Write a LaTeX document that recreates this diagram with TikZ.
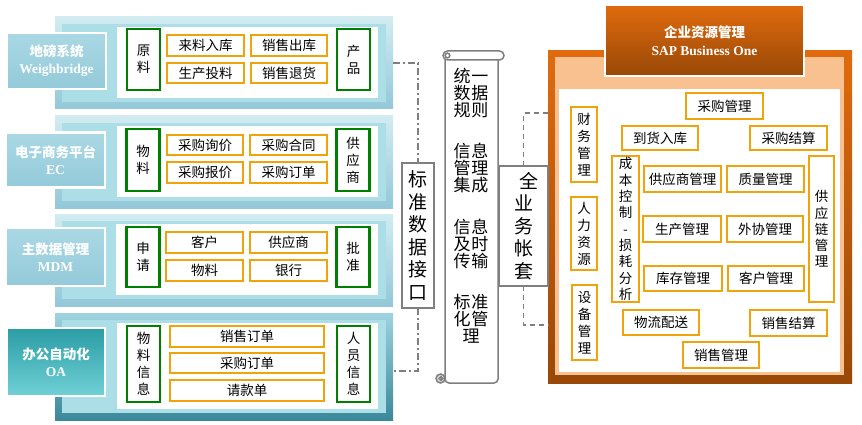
\documentclass[tikz,border=0pt]{standalone}
\usepackage{fontspec}
\setmainfont{Liberation Serif}
\newfontfamily\cjk{Noto Sans CJK SC}
\usetikzlibrary{calc}
\definecolor{panT}{HTML}{D2ECF1}
\definecolor{panB}{HTML}{93C8D8}
\definecolor{bandc}{HTML}{ACDEE7}
\definecolor{lblT}{HTML}{AAD8E4}
\definecolor{lblB}{HTML}{94CADA}
\definecolor{oaT}{HTML}{9FD3DF}
\definecolor{oaB}{HTML}{3A889A}
\definecolor{oalT}{HTML}{2B9CA5}
\definecolor{oalB}{HTML}{70D1D6}
\definecolor{grn}{HTML}{008000}
\definecolor{org}{HTML}{F0A30A}
\definecolor{ln}{HTML}{7F7F7F}
\definecolor{erpT}{HTML}{E06B0E}
\definecolor{erpB}{HTML}{984807}
\definecolor{peach}{HTML}{F9C190}
\definecolor{curl}{HTML}{D9D9D9}
\tikzset{
 base/.style={inner sep=0, outer sep=0, align=center},
 panel/.style={base, top color=panT, bottom color=panB},
 oapanel/.style={base, top color=oaT, bottom color=oaB},
 band/.style={base, fill=bandc},
 wbox/.style={base, fill=white},
 lbl/.style={base, draw=white, line width=2.5, top color=lblT, bottom color=lblB, text=white, font=\bfseries\fontsize{13.5}{17}\selectfont},
 oalbl/.style={lbl, top color=oalT, bottom color=oalB},
 gbox/.style={base, draw=grn, line width=2.2, fill=white, font=\cjk\fontsize{13.5}{17}\selectfont},
 obox/.style={base, draw=org, line width=1.2, fill=white, font=\cjk\fontsize{13.5}{17}\selectfont},
 vob/.style={obox, minimum width=26},
 dd/.style={draw=ln, line width=1.5, dash pattern=on 7pt off 3pt on 2pt off 3pt},
 ds/.style={draw=ln, line width=1.5, dash pattern=on 5pt off 4pt},
 scr/.style={draw=ln, line width=1.5},
 stxt/.style={base, font=\cjk\fontsize{17}{17}\selectfont},
 bigv/.style={base, draw=ln, fill=white, font=\cjk\fontsize{19}{22.6}\selectfont},
}
\begin{document}
\begin{tikzpicture}[x=1pt,y=-1pt]
\useasboundingbox (0,0) rectangle (862,425);
\fill[white] (0,0) rectangle (862,425);

% ---------- Row 1 ----------
\node[panel, minimum width=338, minimum height=92] (p1) at (224,63) {};
\node[band, minimum width=324, minimum height=78] (b1) at (224,63) {};
\node[wbox, minimum width=261, minimum height=71] (w1) at (247.5,62.5) {};
\node[lbl, minimum width=99, minimum height=56] (l1) at (56.5,61) {{\cjk 地磅系统}\\Weighbridge};
\node[gbox, minimum width=33, minimum height=61] (g1a) at (143.5,59.5) {原\\料};
\node[obox, minimum width=77, minimum height=21] (o1a) at (205.5,45.5) {来料入库};
\node[obox, minimum width=76, minimum height=21] (o1b) at (289,45.5) {销售出库};
\node[obox, minimum width=77, minimum height=20] (o1c) at (205.5,73) {生产投料};
\node[obox, minimum width=76, minimum height=20] (o1d) at (289,73) {销售退货};
\node[gbox, minimum width=33, minimum height=61] (g1b) at (353.5,59.5) {产\\品};

% ---------- Row 2 ----------
\node[panel, minimum width=338, minimum height=92] (p2) at (224,162) {};
\node[band, minimum width=324, minimum height=78] (b2) at (224,162) {};
\node[wbox, minimum width=261, minimum height=71] (w2) at (247.5,161.5) {};
\node[lbl, minimum width=99, minimum height=55] (l2) at (55.5,160) {{\cjk 电子商务平台}\\EC};
\node[gbox, minimum width=33, minimum height=62] (g2a) at (143,160) {物\\料};
\node[obox, minimum width=76, minimum height=20] (o2a) at (205,145) {采购询价};
\node[obox, minimum width=77, minimum height=20] (o2b) at (288.5,145) {采购合同};
\node[obox, minimum width=76, minimum height=21] (o2c) at (205,172.5) {采购报价};
\node[obox, minimum width=77, minimum height=21] (o2d) at (288.5,172.5) {采购订单};
\node[gbox, minimum width=33, minimum height=62] (g2b) at (353,160) {供\\应\\商};

% ---------- Row 3 ----------
\node[panel, minimum width=338, minimum height=92] (p3) at (224,260) {};
\node[band, minimum width=324, minimum height=78] (b3) at (224,260) {};
\node[wbox, minimum width=262, minimum height=71] (w3) at (247,259.5) {};
\node[lbl, minimum width=99, minimum height=58] (l3) at (55.5,257) {{\cjk 主数据管理}\\MDM};
\node[gbox, minimum width=33, minimum height=60] (g3a) at (143,257) {申\\请};
\node[obox, minimum width=77, minimum height=21] (o3a) at (204.5,242.5) {客户};
\node[obox, minimum width=77, minimum height=21] (o3b) at (288.5,242.5) {供应商};
\node[obox, minimum width=77, minimum height=21] (o3c) at (204.5,270.5) {物料};
\node[obox, minimum width=77, minimum height=21] (o3d) at (288.5,270.5) {银行};
\node[gbox, minimum width=33, minimum height=60] (g3b) at (353,257) {批\\准};

% ---------- Row 4 ----------
\node[oapanel, minimum width=338, minimum height=107] (p4) at (224,366.5) {};
\node[band, minimum width=324, minimum height=93] (b4) at (224,366.5) {};
\node[wbox, minimum width=261, minimum height=86] (w4) at (247.5,366) {};
\node[oalbl, minimum width=98, minimum height=68] (l4) at (56,362) {{\cjk 办公自动化}\\OA};
\node[gbox, minimum width=33, minimum height=76] (g4a) at (143.5,364) {物\\料\\信\\息};
\node[obox, minimum width=154, minimum height=21] (o4a) at (247,336.5) {销售订单};
\node[obox, minimum width=154, minimum height=20] (o4b) at (247,363) {采购订单};
\node[obox, minimum width=154, minimum height=21] (o4c) at (247,390.5) {请款单};
\node[gbox, minimum width=33, minimum height=76] (g4b) at (353.5,364) {人\\员\\信\\息};

% ---------- Standard data interface ----------
\node[bigv, line width=1.5, minimum width=32, minimum height=145] (std) at (418,235.5) {标\\准\\数\\据\\接\\口};
\draw[dd] (p1.east) -| (std.north);
\draw[dd] (std.south) |- ($(p4.east)+(0,4.5)$);

% ---------- Scroll ----------
\draw[scr, fill=white, rounded corners=4] (445,60) -- (445,383) -- (498,383) -- (498,60);
\draw[scr, fill=white, rounded corners=4.5] (443,51) rectangle (504,60);
\draw[scr] (447.5,55.5) circle (2.3);
\draw[scr, fill=curl] (440.5,378.5) circle (4.5);
\draw[scr] (441,378.5) circle (1.8);
\node[stxt] (s1) at (471,93) {统\kern1pt 一\\数\kern1pt 据\\规\kern1pt 则};
\node[stxt] (s2) at (471,168.5) {信\kern1pt 息\\管\kern1pt 理\\集\kern1pt 成};
\node[stxt] (s3) at (471,243.5) {信\kern1pt 息\\及\kern1pt 时\\传\kern1pt 输};
\node[stxt] (s4) at (471,318.5) {标\kern1pt 准\\化\kern1pt 管\\理};

% ---------- ERP frame ----------
\node[base, top color=erpT, bottom color=erpB, minimum width=304, minimum height=332] (erp) at (700,217) {};
\node[base, fill=peach, minimum width=289, minimum height=318] (erpp) at (699.5,216) {};
\node[wbox, minimum width=281, minimum height=283] (erpw) at (699.5,230.5) {};
\node[base, draw=white, line width=2.5, top color=erpT, bottom color=erpB, text=white, font=\bfseries\fontsize{13.5}{18}\selectfont, minimum width=199, minimum height=71] (ttl) at (704.5,40.5) {{\cjk 企业资源管理}\\SAP Business One};

% ---------- Full business account set ----------
\node[bigv, line width=1.2, minimum width=49, minimum height=120] (acct) at (523.5,226) {\hspace*{10pt}全\\业\\务\\帐\\套};
\coordinate (e1) at (548,113);
\coordinate (e2) at (548,325);
\draw[ds] (acct.north) |- (e1);
\draw[ds] (acct.south) |- (e2);

% ---------- ERP modules ----------
\node[obox, minimum width=77, minimum height=26] (m1) at (724.5,106) {采购管理};
\node[obox, minimum width=76, minimum height=24] (m2) at (660,138) {到货入库};
\node[obox, minimum width=77, minimum height=24] (m3) at (788.5,138) {采购结算};
\node[vob, minimum height=75] (m4) at (584,144.5) {财\\务\\管\\理};
\node[vob, minimum height=73] (m5) at (584,233.5) {人\\力\\资\\源};
\node[vob, minimum width=25, minimum height=75] (m6) at (584.5,322.5) {设\\备\\管\\理};
\node[vob, minimum width=27, minimum height=146, font=\cjk\fontsize{13.5}{16.3}\selectfont] (m7) at (625.5,229) {成\\本\\控\\制\\-\\损\\耗\\分\\析};
\node[obox, minimum width=77, minimum height=26] (m8) at (682.5,179) {供应商管理};
\node[obox, minimum width=77, minimum height=26] (m9) at (765.5,179) {质量管理};
\node[vob, minimum width=25, minimum height=146, font=\cjk\fontsize{13.5}{16.3}\selectfont] (m10) at (821.5,229) {供\\应\\链\\管\\理};
\node[obox, minimum width=78, minimum height=26] (m11) at (682,229) {生产管理};
\node[obox, minimum width=76, minimum height=26] (m12) at (765,229) {外协管理};
\node[obox, minimum width=78, minimum height=25] (m13) at (683,278.5) {库存管理};
\node[obox, minimum width=76, minimum height=25] (m14) at (766,278.5) {客户管理};
\node[obox, minimum width=76, minimum height=25] (m15) at (661,322.5) {物流配送};
\node[obox, minimum width=77, minimum height=26] (m16) at (788.5,323) {销售结算};
\node[obox, minimum width=76, minimum height=26] (m17) at (721,355) {销售管理};
\end{tikzpicture}
\end{document}
